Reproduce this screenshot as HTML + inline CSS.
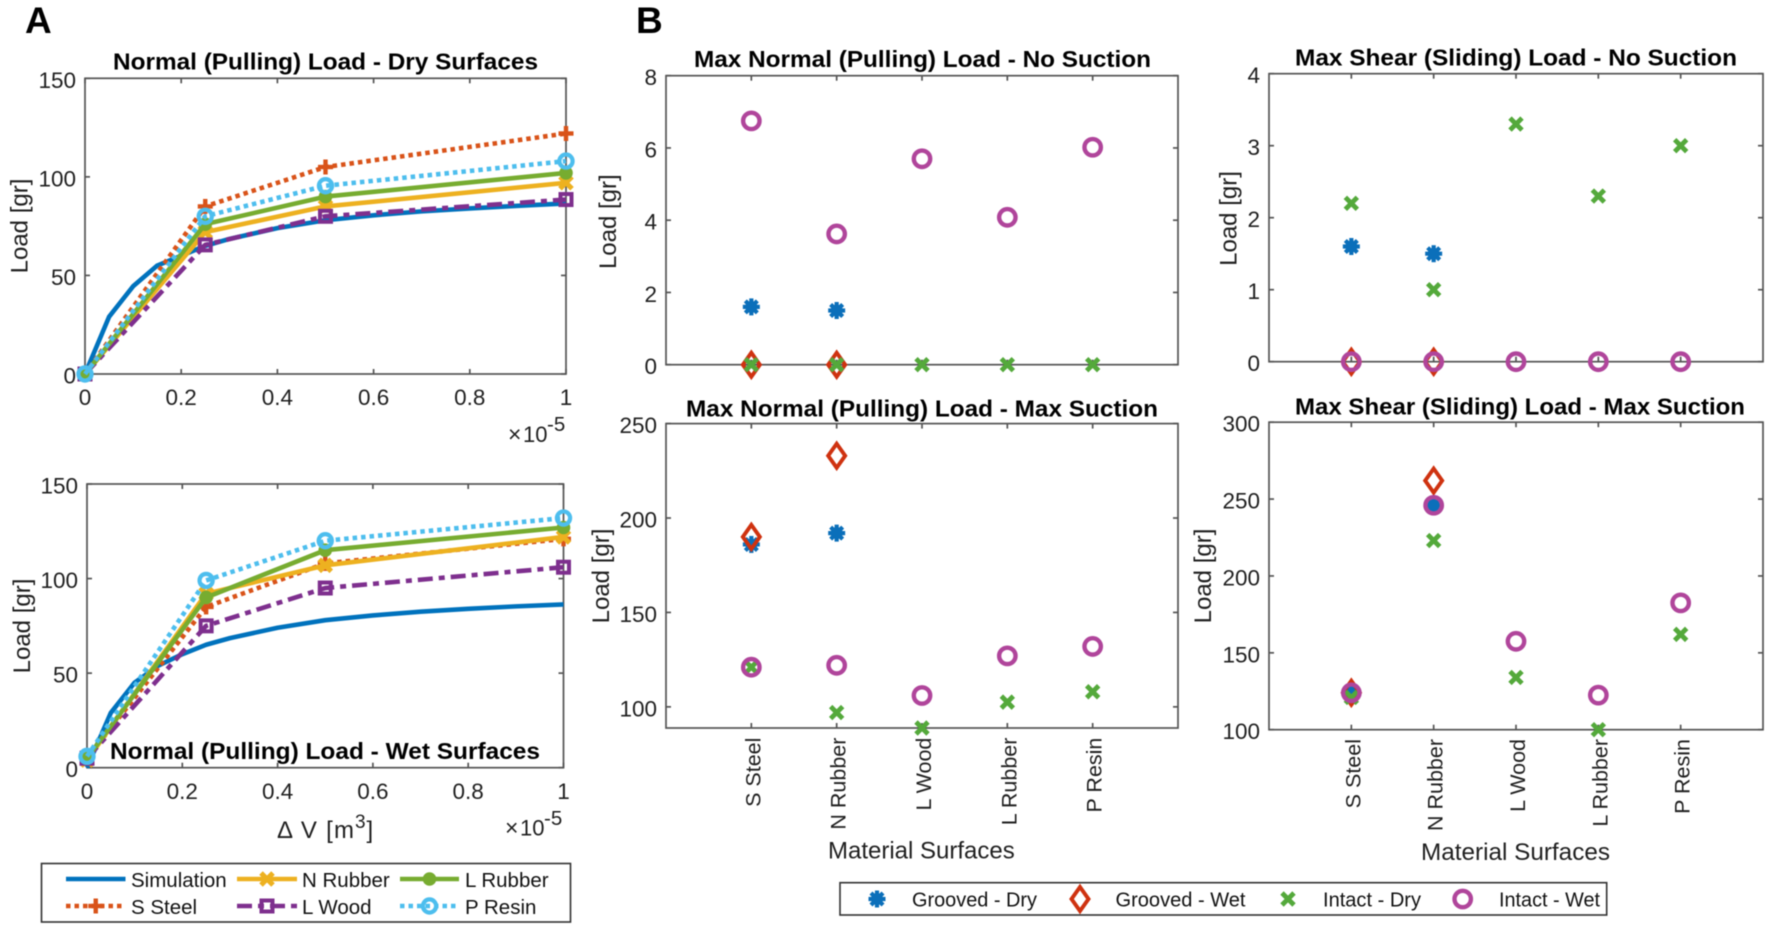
<!DOCTYPE html>
<html lang="en">
<head>
<meta charset="utf-8">
<title>Load charts</title>
<style>
html,body{margin:0;padding:0;background:#fff;width:1772px;height:928px;overflow:hidden}
svg{display:block;filter:blur(.55px)}
text{font-family:"Liberation Sans",Arial,sans-serif;fill:#1f1f1f}
.title{font-weight:bold;font-size:23.5px;fill:#000}
.panel{font-weight:bold;font-size:37px;fill:#000}
.ylab{font-size:24px}
.xlab{font-size:24px}
.leg{font-size:20.5px;fill:#111}
</style>
</head>
<body>
<svg id="fig" xmlns="http://www.w3.org/2000/svg" width="1772" height="928" viewBox="0 0 1772 928">
<rect x="0" y="0" width="1772" height="928" fill="#fff"/>
<g id="charts"></g>

<text class="panel" x="25" y="33">A</text>
<text class="panel" x="636" y="33">B</text>

<text class="title" x="113" y="69.5" textLength="425" lengthAdjust="spacingAndGlyphs">Normal (Pulling) Load - Dry Surfaces</text>
<text class="title" x="110" y="759" textLength="430" lengthAdjust="spacingAndGlyphs">Normal (Pulling) Load - Wet Surfaces</text>
<text class="title" x="694" y="67.2" textLength="457" lengthAdjust="spacingAndGlyphs">Max Normal (Pulling) Load - No Suction</text>
<text class="title" x="1295" y="65.5" textLength="442" lengthAdjust="spacingAndGlyphs">Max Shear (Sliding) Load - No Suction</text>
<text class="title" x="686" y="416.5" textLength="472" lengthAdjust="spacingAndGlyphs">Max Normal (Pulling) Load - Max Suction</text>
<text class="title" x="1295" y="414.5" textLength="450" lengthAdjust="spacingAndGlyphs">Max Shear (Sliding) Load - Max Suction</text>

<text class="ylab" text-anchor="middle" transform="translate(27.5,226) rotate(-90)">Load [gr]</text>
<text class="ylab" text-anchor="middle" transform="translate(30,626) rotate(-90)">Load [gr]</text>
<text class="ylab" text-anchor="middle" transform="translate(616,221.7) rotate(-90)">Load [gr]</text>
<text class="ylab" text-anchor="middle" transform="translate(1236.6,218.5) rotate(-90)">Load [gr]</text>
<text class="ylab" text-anchor="middle" transform="translate(609,576) rotate(-90)">Load [gr]</text>
<text class="ylab" text-anchor="middle" transform="translate(1211,576) rotate(-90)">Load [gr]</text>

<g>
<text x="508" y="442" font-size="23">×</text><text x="523" y="442" font-size="22">10</text><text x="547" y="431" font-size="20.5">-5</text>
</g>
<g>
<text x="505" y="835.5" font-size="23">×</text><text x="520" y="835.5" font-size="22">10</text><text x="544" y="825" font-size="20.5">-5</text>
</g>
<g>
<text class="xlab" x="277" y="838" textLength="77" lengthAdjust="spacing">Δ V [m</text><text x="355" y="828" font-size="19">3</text><text class="xlab" x="366.5" y="838">]</text>
</g>
<text class="xlab" x="828" y="858.5">Material Surfaces</text>
<text class="xlab" x="1421" y="860" textLength="189" lengthAdjust="spacingAndGlyphs">Material Surfaces</text>

<g>
<rect x="41.5" y="863.5" width="529" height="58.5" fill="#fff" stroke="#333" stroke-width="1.6"/>
<g id="legendA"></g>
<text class="leg" x="131" y="887">Simulation</text>
<text class="leg" x="131" y="914">S Steel</text>
<text class="leg" x="302" y="887">N Rubber</text>
<text class="leg" x="302" y="914">L Wood</text>
<text class="leg" x="465" y="887">L Rubber</text>
<text class="leg" x="465" y="914">P Resin</text>
</g>

<g>
<rect x="840" y="882.7" width="766.7" height="32.3" fill="#fff" stroke="#333" stroke-width="1.6"/>
<g id="legendB"></g>
<text class="leg" x="912" y="906.7" textLength="125" lengthAdjust="spacingAndGlyphs">Grooved - Dry</text>
<text class="leg" x="1115.5" y="906.7" textLength="130" lengthAdjust="spacingAndGlyphs">Grooved - Wet</text>
<text class="leg" x="1323" y="906.7" textLength="98" lengthAdjust="spacingAndGlyphs">Intact - Dry</text>
<text class="leg" x="1499" y="906.7" textLength="101" lengthAdjust="spacingAndGlyphs">Intact - Wet</text>
</g>
</svg>

<script>
// ---------- data: load vs. volume panels ----------
const volumeTicks = [0, 0.2, 0.4, 0.6, 0.8, 1];
const volumeTickLabels = ['0', '0.2', '0.4', '0.6', '0.8', '1'];
const lineLoadTicks = [0, 50, 100, 150];
const measuredVolume = [0, 0.25, 0.5, 1];
const simVolume = [0, 0.05, 0.1, 0.15, 0.2, 0.25, 0.3, 0.4, 0.5, 0.6, 0.7, 0.8, 0.9, 1];
const simLoadDry = [0, 29, 44.5, 55, 60, 65, 68.5, 74, 78, 80.5, 82.5, 84, 85.3, 86.5];
const simLoadWet = [0, 29, 45, 54, 60, 65, 68.5, 74, 78, 80.5, 82.5, 84, 85.3, 86.3];
const dryS = [0, 85, 105, 122];
const dryN = [0, 72, 85, 97];
const dryW = [0, 65.5, 80, 88.5];
const dryL = [0, 76, 90, 102];
const dryP = [0, 80, 95.5, 108];
const wetS = [5, 85, 108, 121];
const wetN = [4, 92, 107, 122];
const wetW = [5, 75, 95, 106];
const wetL = [5, 90, 115, 127];
const wetP = [6, 99, 120, 132];

// ---------- data: material scatter panels ----------
const categories = ['S Steel', 'N Rubber', 'L Wood', 'L Rubber', 'P Resin'];
const normalNoSuctionTicks = [0, 2, 4, 6, 8];
const shearNoSuctionTicks = [0, 1, 2, 3, 4];
const normalMaxSuctionTicks = [100, 150, 200, 250];
const shearMaxSuctionTicks = [100, 150, 200, 250, 300];
const normalNoGD = [1.6, 1.5, null, null, null];
const normalNoGW = [0, 0, null, null, null];
const normalNoID = [0, 0, 0, 0, 0];
const normalNoIW = [6.75, 3.62, 5.7, 4.08, 6.02];
const shearNoGD = [1.6, 1.5, null, null, null];
const shearNoGW = [0, 0, null, null, null];
const shearNoID = [2.2, 1, 3.3, 2.3, 3];
const shearNoIW = [0, 0, 0, 0, 0];
const normalMaxGD = [186, 192, null, null, null];
const normalMaxGW = [190, 233, null, null, null];
const normalMaxID = [121, 97, 88.8, 102.5, 108];
const normalMaxIW = [121, 122, 106, 127, 132];
const shearMaxGD = [124, 246, null, null, null];
const shearMaxGW = [124, 262, null, null, null];
const shearMaxID = [121, 223, 134, 100, 162];
const shearMaxIW = [124, 246, 157.5, 122.5, 182.5];

// ---------- styles ----------
const NS = 'http://www.w3.org/2000/svg';
const C = {sim:'#0072BD', s:'#D95319', n:'#EDB120', w:'#7E2F8E', l:'#77AC30', p:'#4DBEEE',
           gd:'#0B6FBA', gw:'#CF3210', id:'#54A93B', iw:'#B0459B'};
const DOT = '4.5 4';
const DASHDOT = '15 6 6 6';
const root = document.getElementById('charts');

function mk(parent, tag, attrs) {
  const e = document.createElementNS(NS, tag);
  for (const k in attrs) e.setAttribute(k, attrs[k]);
  parent.appendChild(e);
  return e;
}
function line(p, x1, y1, x2, y2, col, sw) {
  return mk(p, 'line', {x1: x1, y1: y1, x2: x2, y2: y2, stroke: col, 'stroke-width': sw});
}
function marker(parent, kind, cx, cy, col, name) {
  const g = mk(parent, 'g', {});
  
  
  if (kind === 'plus') {
    line(g, cx - 7.5, cy, cx + 7.5, cy, col, 4.4); line(g, cx, cy - 7.5, cx, cy + 7.5, col, 4.4);
  } else if (kind === 'x') {
    line(g, cx - 6, cy - 6, cx + 6, cy + 6, col, 4.8); line(g, cx - 6, cy + 6, cx + 6, cy - 6, col, 4.8);
  } else if (kind === 'xthick') {
    line(g, cx - 6, cy - 6, cx + 6, cy + 6, col, 5); line(g, cx - 6, cy + 6, cx + 6, cy - 6, col, 5);
  } else if (kind === 'square') {
    mk(g, 'rect', {x: cx - 5.5, y: cy - 5.5, width: 11, height: 11, fill: 'none', stroke: col, 'stroke-width': 4});
  } else if (kind === 'dot') {
    mk(g, 'circle', {cx: cx, cy: cy, r: 6.8, fill: col});
  } else if (kind === 'ring') {
    mk(g, 'circle', {cx: cx, cy: cy, r: 6.6, fill: 'none', stroke: col, 'stroke-width': 4.2});
  } else if (kind === 'star') {
    [0, 45, 90, 135].forEach(function (a) {
      const r = 8.5, t = a * Math.PI / 180;
      line(g, cx - r * Math.cos(t), cy - r * Math.sin(t), cx + r * Math.cos(t), cy + r * Math.sin(t), col, 4.2);
    });
    mk(g, 'circle', {cx: cx, cy: cy, r: 6, fill: col});
  } else if (kind === 'diamond') {
    const hw = 8.5, hh = 12;
    mk(g, 'polygon', {points: cx + ',' + (cy - hh) + ' ' + (cx + hw) + ',' + cy + ' ' + cx + ',' + (cy + hh) + ' ' + (cx - hw) + ',' + cy,
      fill: 'none', stroke: col, 'stroke-width': 3.9, 'stroke-linejoin': 'miter'});
  } else if (kind === 'circle') {
    mk(g, 'circle', {cx: cx, cy: cy, r: 8.2, fill: 'none', stroke: col, 'stroke-width': 4.4});
  }
  return g;
}
function label(parent, str, x, y, anchor, name) {
  const t = mk(parent, 'text', {x: x, y: y, 'text-anchor': anchor, 'font-size': 22.5});
  t.textContent = str;
  
  
  return t;
}
function axesFrame(parent, b, xTicks, yTicks, xFn, yFn, name) {
  const g = mk(parent, 'g', {});
  
  
  const col = '#555', sw = 1.7, tl = 5;
  mk(g, 'rect', {x: b.l, y: b.t, width: b.r - b.l, height: b.b - b.t, fill: '#fff', stroke: col, 'stroke-width': sw});
  xTicks.forEach(function (v) {
    line(g, xFn(v), b.t, xFn(v), b.t + tl, col, sw);
    line(g, xFn(v), b.b, xFn(v), b.b - tl, col, sw);
  });
  yTicks.forEach(function (v) {
    line(g, b.l, yFn(v), b.l + tl, yFn(v), col, sw);
    line(g, b.r, yFn(v), b.r - tl, yFn(v), col, sw);
  });
  return g;
}
function polyline(parent, xs, ys, xFn, yFn, col, dash, name) {
  const pts = xs.map(function (v, i) { return xFn(v) + ',' + yFn(ys[i]); }).join(' ');
  const a = {points: pts, fill: 'none', stroke: col, 'stroke-width': 4.6, 'stroke-linejoin': 'round'};
  if (dash) a['stroke-dasharray'] = dash;
  const p = mk(parent, 'polyline', a);
  
  
  return p;
}

function linePanel(b, name, sim, S, N, W, L, P, tickBase) {
  const xFn = function (v) { return b.l + (v - 0) / (1 - 0) * (b.r - b.l); };
  const yFn = function (v) { return b.b - (v - 0) / (150 - 0) * (b.b - b.t); };
  const g = mk(root, 'g', {});
  
  
  axesFrame(g, b, volumeTicks, lineLoadTicks, xFn, yFn, name);
  lineLoadTicks.forEach(function (v) {
    label(g, String(v), b.l - 9, yFn(v) + 9.5, 'end', name + '-y-tick-' + v);
  });
  volumeTicks.forEach(function (v, i) {
    label(g, volumeTickLabels[i], xFn(v), tickBase, 'middle', name + '-x-tick-' + volumeTickLabels[i]);
  });
  polyline(g, simVolume, sim, xFn, yFn, C.sim, null, name + '-line-simulation');
  const series = [
    ['s-steel', S, C.s, DOT, 'plus'],
    ['n-rubber', N, C.n, null, 'xthick'],
    ['l-wood', W, C.w, DASHDOT, 'square'],
    ['l-rubber', L, C.l, null, 'dot'],
    ['p-resin', P, C.p, DOT, 'ring']
  ];
  series.forEach(function (s) {
    polyline(g, measuredVolume, s[1], xFn, yFn, s[2], s[3], name + '-line-' + s[0]);
    measuredVolume.forEach(function (v, i) {
      marker(g, s[4], xFn(v), yFn(s[1][i]), s[2], name + '-point-' + s[0] + '-' + i);
    });
  });
}

function scatterPanel(b, name, ymin, ymax, yTicks, GD, GW, ID, IW, showCats, catEnd) {
  const positions = categories.map(function (c, i) { return i + 1; });
  const xFn = function (v) { return b.l + v / 6 * (b.r - b.l); };
  const yFn = function (v) { return b.b - (v - ymin) / (ymax - ymin) * (b.b - b.t); };
  const g = mk(root, 'g', {});
  
  
  axesFrame(g, b, positions, yTicks, xFn, yFn, name);
  yTicks.forEach(function (v) {
    label(g, String(v), b.l - 9, yFn(v) + 9.5, 'end', name + '-y-tick-' + v);
  });
  if (showCats) {
    categories.forEach(function (c, i) {
      const t = mk(g, 'text', {'text-anchor': 'end', 'font-size': 21.5,
        transform: 'translate(' + (xFn(i + 1) + 9) + ',' + catEnd + ') rotate(-90)'});
      t.textContent = c;
      
      
    });
  }
  const sets = [['grooved-dry', GD, 'star', C.gd], ['grooved-wet', GW, 'diamond', C.gw],
                ['intact-dry', ID, 'x', C.id], ['intact-wet', IW, 'circle', C.iw]];
  sets.forEach(function (s) {
    s[1].forEach(function (v, i) {
      if (v === null) return;
      marker(g, s[2], xFn(i + 1), yFn(v), s[3], name + '-' + s[0] + '-' + i);
    });
  });
}

linePanel({l: 85, r: 566, t: 78.3, b: 374}, 'dry', simLoadDry, dryS, dryN, dryW, dryL, dryP, 405);
linePanel({l: 87, r: 563.5, t: 484, b: 767.7}, 'wet', simLoadWet, wetS, wetN, wetW, wetL, wetP, 799);

scatterPanel({l: 666, r: 1178, t: 75.7, b: 364.7}, 'normal-no-suction', 0, 8, normalNoSuctionTicks, normalNoGD, normalNoGW, normalNoID, normalNoIW, false, 0);
scatterPanel({l: 1269, r: 1763, t: 73.7, b: 361.7}, 'shear-no-suction', 0, 4, shearNoSuctionTicks, shearNoGD, shearNoGW, shearNoID, shearNoIW, false, 0);
scatterPanel({l: 666, r: 1178, t: 423.6, b: 728}, 'normal-max-suction', 88.8, 250, normalMaxSuctionTicks, normalMaxGD, normalMaxGW, normalMaxID, normalMaxIW, true, 737.6);
scatterPanel({l: 1269, r: 1763, t: 422.2, b: 729.7}, 'shear-max-suction', 100, 300, shearMaxSuctionTicks, shearMaxGD, shearMaxGW, shearMaxID, shearMaxIW, true, 739);

// ---------- legends ----------
const legA = document.getElementById('legendA');
function legLine(x1, x2, y, col, dash, kind, name) {
  const a = {x1: x1, y1: y, x2: x2, y2: y, stroke: col, 'stroke-width': 4.6};
  if (dash) a['stroke-dasharray'] = dash;
  const l = mk(legA, 'line', a);
  
  
  if (kind) marker(legA, kind, (x1 + x2) / 2, y, col, name + '-marker');
}
legLine(66, 125.5, 879, C.sim, null, null, 'legend-simulation');
legLine(66, 125.5, 906, C.s, DOT, 'plus', 'legend-s-steel');
legLine(237, 297, 879, C.n, null, 'xthick', 'legend-n-rubber');
legLine(237, 297, 906, C.w, DASHDOT, 'square', 'legend-l-wood');
legLine(400, 459, 879, C.l, null, 'dot', 'legend-l-rubber');
legLine(400, 459, 906, C.p, DOT, 'ring', 'legend-p-resin');

const legB = document.getElementById('legendB');
marker(legB, 'star', 877, 899, C.gd, 'legend-marker-grooved-dry');
marker(legB, 'diamond', 1080, 899, C.gw, 'legend-marker-grooved-wet');
marker(legB, 'x', 1288, 899, C.id, 'legend-marker-intact-dry');
marker(legB, 'circle', 1462.7, 899, C.iw, 'legend-marker-intact-wet');
</script>
</body>
</html>
